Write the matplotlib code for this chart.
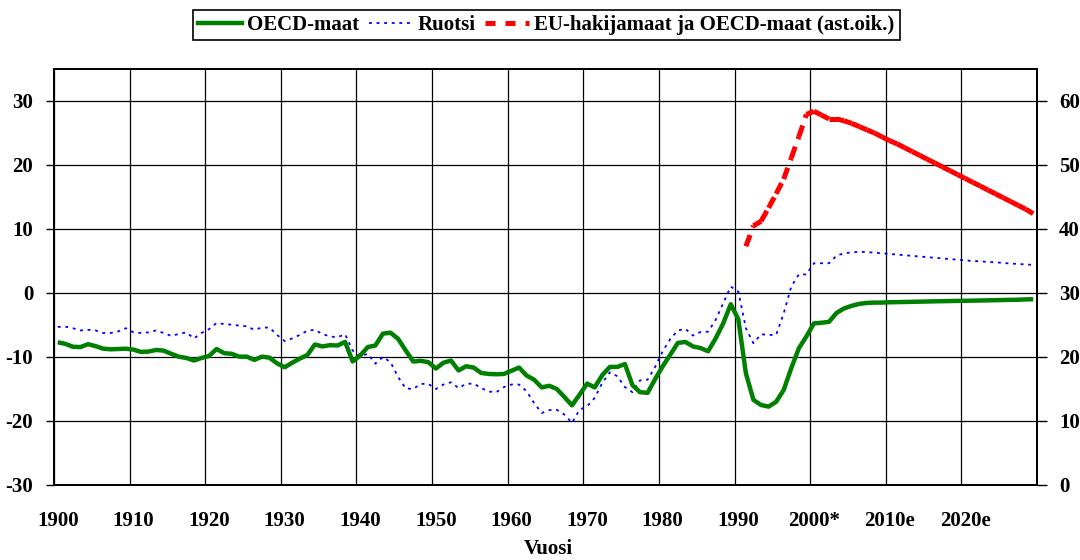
import matplotlib
matplotlib.use("Agg")
import matplotlib.pyplot as plt
from matplotlib.lines import Line2D

plt.rcParams['font.family'] = ['Liberation Serif', 'DejaVu Serif']
plt.rcParams['font.weight'] = 'bold'
plt.rcParams['axes.unicode_minus'] = False

years = list(range(1900, 2030))

oecd = [
    -7.7, -7.95, -8.4, -8.45, -8.0, -8.3, -8.7, -8.8, -8.75, -8.7,
    -8.85, -9.2, -9.15, -8.9, -9.0, -9.5, -9.95, -10.15, -10.55, -10.15,
    -9.85, -8.75, -9.4, -9.5, -9.95, -9.95, -10.45, -9.95, -10.1, -11.0,
    -11.6, -10.9, -10.25, -9.7, -8.05, -8.35, -8.15, -8.2, -7.65, -10.7,
    -9.75, -8.45, -8.2, -6.35, -6.2, -7.15, -8.95, -10.7, -10.6, -10.8,
    -11.8, -10.9, -10.55, -12.1, -11.45, -11.65, -12.5, -12.65, -12.7, -12.65,
    -12.15, -11.65, -12.9, -13.55, -14.75, -14.5, -15.0, -16.25, -17.55, -15.9,
    -14.15, -14.75, -12.85, -11.55, -11.55, -11.1, -14.4, -15.5, -15.6, -13.45,
    -11.45, -9.65, -7.8, -7.65, -8.35, -8.6, -9.1, -7.1, -4.75, -1.75,
    -4.1, -12.55, -16.7, -17.5, -17.75, -17.0, -15.15, -11.75, -8.65, -6.8,
    -4.75, -4.65, -4.5, -3.1, -2.4, -2.0, -1.7, -1.55, -1.5, -1.5,
    -1.45, -1.43, -1.4, -1.38, -1.35, -1.33, -1.3, -1.28, -1.27, -1.25,
    -1.22, -1.2, -1.17, -1.15, -1.12, -1.1, -1.07, -1.05, -1.0, -0.97,
]

ruotsi = [
    -5.3, -5.25, -5.5, -5.85, -5.75, -5.85, -6.25, -6.25, -6.0, -5.5,
    -6.15, -6.25, -6.15, -5.85, -6.25, -6.7, -6.4, -6.15, -7.1, -6.25,
    -5.65, -4.7, -4.85, -4.95, -5.1, -5.2, -5.75, -5.4, -5.4, -6.55,
    -7.5, -7.1, -6.55, -5.9, -5.75, -6.4, -6.8, -6.9, -6.45, -9.0,
    -9.9, -9.5, -11.05, -10.0, -10.8, -13.1, -14.9, -15.0, -14.2, -14.2,
    -15.0, -14.3, -13.95, -14.85, -14.2, -14.15, -14.85, -15.4, -15.5, -14.7,
    -14.3, -14.3, -15.35, -17.2, -18.75, -18.3, -18.25, -19.0, -20.3, -18.25,
    -17.7, -16.4, -14.05, -12.4, -13.0, -14.7, -15.5, -13.65, -13.55, -11.55,
    -9.1, -7.2, -5.85, -5.6, -6.65, -6.1, -6.05, -4.2, -1.6, 1.0,
    0.2, -5.5, -7.85, -6.45, -6.55, -6.55, -3.2, 1.0, 2.9, 2.9,
    4.65, 4.65, 4.65, 5.85, 6.2, 6.35, 6.45, 6.4, 6.3, 6.2,
    6.1, 6.0, 5.9, 5.8, 5.7, 5.6, 5.5, 5.4, 5.3, 5.2,
    5.1, 5.0, 4.95, 4.85, 4.8, 4.7, 4.6, 4.55, 4.45, 4.4,
]

eu_years = list(range(1991, 2030))
eu = [
    37.3, 40.5, 41.2, 43.3, 45.5, 47.8, 51.1, 54.4, 57.9,
    58.4, 57.8, 57.2, 57.2, 56.9, 56.5, 56.0, 55.5, 55.0, 54.4,
    53.8, 53.3, 52.7, 52.1, 51.5, 50.9, 50.3, 49.7, 49.1, 48.5,
    47.9, 47.3, 46.7, 46.1, 45.5, 44.9, 44.3, 43.7, 43.1, 42.4,
]

decade_labels = ['1900', '1910', '1920', '1930', '1940', '1950', '1960',
                 '1970', '1980', '1990', '2000*', '2010e', '2020e']

names = ['OECD-maat', 'Ruotsi', 'EU-hakijamaat ja OECD-maat (ast.oik.)']

FS = 15
W, H = 1080, 560
fig = plt.figure(figsize=(W / 100, H / 100), dpi=100)
L, R, T, B = 54, 1037, 69, 485
ax = fig.add_axes([L / W, 1 - B / H, (R - L) / W, (B - T) / H])
ax2 = ax.twinx()

xs = [y + 0.5 for y in years]
xe = [y + 0.5 for y in eu_years]

ax.plot(xs, ruotsi, color='#0000ff', lw=1.3, linestyle=(0, (1.6, 2.6)), zorder=3)
ax.plot(xs, oecd, color='#008000', lw=3.2, solid_joinstyle='round',
        solid_capstyle='butt', zorder=4)

red_dash = (0, (2.4, 1.6))
for i in range(len(xe) - 1):
    ax2.plot(xe[i:i + 2], eu[i:i + 2], color='#ff0000', lw=3.6,
             linestyle=red_dash, dash_capstyle='butt', zorder=5)

ax.set_xlim(1900, 2030)
ax.set_ylim(-30, 35)
ax2.set_ylim(0, 65)

ax.set_xticks(list(range(1900, 2031, 10)))
ax.set_xticklabels([])
ax.tick_params(axis='x', which='major', length=0)
ax.set_xticks([d + 0.5 for d in range(1900, 2021, 10)], minor=True)
ax.set_xticklabels(decade_labels, minor=True, fontsize=FS, fontweight='bold')
ax.tick_params(axis='x', which='minor', length=0, pad=19)

ax.set_yticks(list(range(-30, 31, 10)))
ax.set_yticklabels([str(v) for v in range(-30, 31, 10)], fontsize=FS, fontweight='bold')
ax.tick_params(axis='y', direction='out', length=6, width=1, pad=9)
ax2.set_yticks(list(range(0, 61, 10)))
ax2.set_yticklabels([str(v) for v in range(0, 61, 10)], fontsize=FS, fontweight='bold')
ax2.tick_params(axis='y', direction='out', length=7, width=1, pad=9)

ax.grid(True, which='major', color='black', lw=0.9)
for ax_ in (ax, ax2):
    for s in ax_.spines.values():
        s.set_linewidth(1.4)
        s.set_color('black')
ax.set_axisbelow(True)

fig.text(548 / W, 1 - 549 / H, 'Vuosi', fontsize=FS, fontweight='bold',
         ha='center', va='center')

handles = [
    Line2D([], [], color='#008000', lw=3.2),
    Line2D([], [], color='#0000ff', lw=1.3, linestyle=(0, (1.6, 2.6))),
    Line2D([], [], color='#ff0000', lw=3.6, linestyle=(0, (2.0, 2.0))),
]
leg = fig.legend(handles, names, loc='center', bbox_to_anchor=(546.5 / W, 1 - 25 / H),
                 ncol=3, frameon=True, fancybox=False, edgecolor='black', framealpha=1,
                 prop={'family': 'Liberation Serif', 'weight': 'bold', 'size': FS},
                 handlelength=2.1, handletextpad=0.25, columnspacing=0.45,
                 borderpad=0.25, borderaxespad=0)
leg.get_frame().set_linewidth(1.2)

fig.savefig('out.png', dpi=100)
